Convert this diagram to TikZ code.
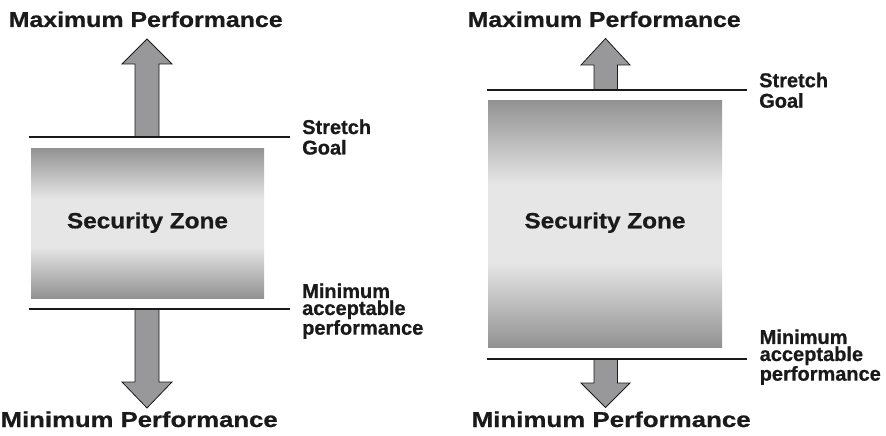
\documentclass[tikz,border=0pt]{standalone}
\usepackage{fontspec}
\setmainfont{Liberation Sans}
\newfontfamily\heavysans[FakeBold=0.7]{Liberation Sans Bold}
\usepackage{graphicx}
\definecolor{zd}{HTML}{929293}
\definecolor{zl}{HTML}{E6E6E7}
\definecolor{arrowfill}{HTML}{98989A}
\definecolor{ink}{HTML}{1A1A1A}
\pgfdeclareverticalshading{zoneshade}{100bp}{color(0bp)=(zd); color(25bp)=(zd); color(42bp)=(zl); color(58bp)=(zl); color(75bp)=(zd); color(100bp)=(zd)}
\begin{document}
\begin{tikzpicture}[x=1pt,y=-1pt,
  titletext/.style={anchor=base west, inner sep=0pt, text=ink, font=\fontsize{21.5}{24}\heavysans},
  zonetext/.style={anchor=base, inner sep=0pt, text=ink, font=\fontsize{22}{24}\heavysans},
  sidetext/.style={anchor=north west, inner sep=0pt, align=left, text=ink, font=\fontsize{20}{20.5}\heavysans},
  sidetextb/.style={anchor=north west, inner sep=0pt, align=left, text=ink, font=\fontsize{20}{17}\heavysans},
  zonebox/.style={shade, shading=zoneshade, draw=none, inner sep=0pt},
  guide/.style={draw=ink, line width=1.3pt},
  blockarrow/.style={fill=arrowfill, draw=ink, line width=0.8pt, line join=miter}]
\useasboundingbox (0,0) rectangle (886,436);

% ---------- left panel ----------
\node[zonebox, minimum width=233, minimum height=150] (lzone) at (147.5,223) {};
\node[zonetext] (lzt) at (147.5,228.3) {\resizebox{161pt}{\height}{Security Zone}};
\coordinate (lt1) at (29,137);  \coordinate (lt2) at (290,137);
\coordinate (lb1) at (29,309);  \coordinate (lb2) at (290,309);
\draw[blockarrow] (135,137) -- (135,64) -- (122,64) -- (147,39) -- (172,64) -- (159,64) -- (159,137) -- cycle;
\draw[blockarrow] (135,309) -- (135,382) -- (122,382) -- (147,408) -- (172,382) -- (159,382) -- (159,309) -- cycle;
\draw[guide] (lt1) -- (lt2);
\draw[guide] (lb1) -- (lb2);
\node[titletext] (lmax) at (8.5,27) {\resizebox{274pt}{\height}{Maximum Performance}};
\node[titletext] (lmin) at (0.5,427) {\resizebox{277pt}{\height}{Minimum Performance}};
\node[sidetext] (lsg) at (302,119.3) {Stretch\\Goal};
\node[sidetextb] (lmap) at (302,283.3) {Minimum\\acceptable\\performance};

% ---------- right panel ----------
\node[zonebox, minimum width=234, minimum height=247] (rzone) at (605,223.5) {};
\node[zonetext] (rzt) at (605,228.3) {\resizebox{161pt}{\height}{Security Zone}};
\coordinate (rt1) at (487,90);   \coordinate (rt2) at (747,90);
\coordinate (rb1) at (487,359);  \coordinate (rb2) at (747,359);
\draw[blockarrow] (594,90) -- (594,65) -- (581,65) -- (605.5,38.5) -- (630,65) -- (617.5,65) -- (617.5,90) -- cycle;
\draw[blockarrow] (594,359) -- (594,383) -- (581,383) -- (605.5,407.5) -- (630,383) -- (617.5,383) -- (617.5,359) -- cycle;
\draw[guide] (rt1) -- (rt2);
\draw[guide] (rb1) -- (rb2);
\node[titletext] (rmax) at (467.5,27) {\resizebox{273pt}{\height}{Maximum Performance}};
\node[titletext] (rmin) at (471.5,427) {\resizebox{279pt}{\height}{Minimum Performance}};
\node[sidetext] (rsg) at (759,72.5) {Stretch\\Goal};
\node[sidetextb] (rmap) at (759.5,329.3) {Minimum\\acceptable\\performance};
\end{tikzpicture}
\end{document}
